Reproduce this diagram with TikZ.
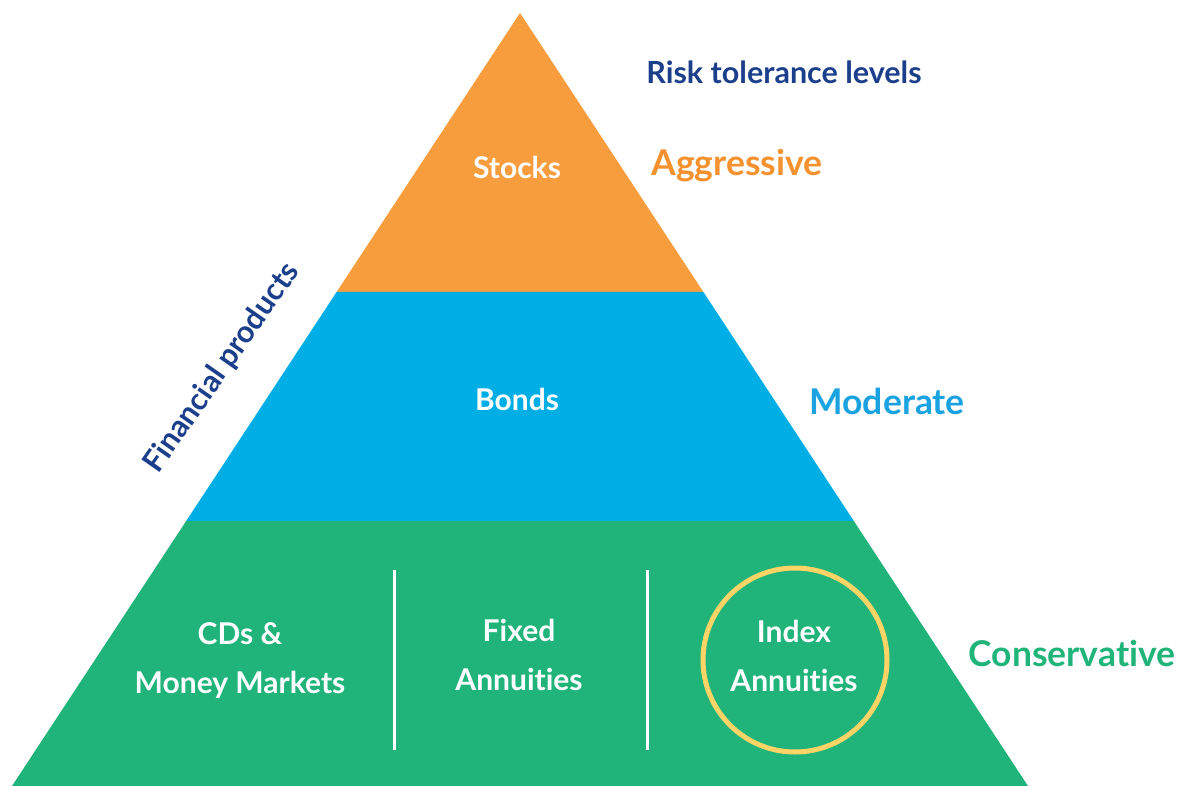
\documentclass[tikz,border=0pt]{standalone}
\usepackage{fontspec}
\setmainfont{Lato}[Ligatures=NoCommon]
\definecolor{stockorange}{HTML}{F79D3D}
\definecolor{bondblue}{HTML}{00AEE6}
\definecolor{safegreen}{HTML}{20B47A}
\definecolor{darkblue}{HTML}{1C3F8C}
\definecolor{ringyellow}{HTML}{FFD466}
\definecolor{aggrorange}{HTML}{F5922F}
\definecolor{modblue}{HTML}{1AA3E0}
\begin{document}
\begin{tikzpicture}[x=1pt,y=-1pt,
  inside/.style={text=white,font=\fontsize{30}{49}\selectfont\bfseries,align=center},
  level/.style={font=\fontsize{35.5}{40}\selectfont\bfseries,anchor=west},
  axis/.style={text=darkblue,font=\fontsize{30.5}{34}\selectfont\bfseries}]
\useasboundingbox (0,0) rectangle (1183,786);
\coordinate (apex) at (520,13);
\coordinate (tl) at (336.6,292);
\coordinate (tr) at (703.4,292);
\coordinate (ml) at (186.2,521);
\coordinate (mr) at (853.8,521);
\coordinate (bl) at (12,786);
\coordinate (br) at (1028,786);
% pyramid bands
\fill[stockorange] (apex) -- (tr) -- (tl) -- cycle;
\fill[bondblue] (tl) -- (tr) -- (mr) -- (ml) -- cycle;
\fill[safegreen] (ml) -- (mr) -- (br) -- (bl) -- cycle;
\draw[white,line width=3pt] (394,570) -- (394,750);
\draw[white,line width=3pt] (647,570) -- (647,750);
\draw[ringyellow,line width=5pt] (795,660) circle (92);
% products
\node[inside] (stocks) at (517,167) {Stocks};
\node[inside] (bonds) at (517,399) {Bonds};
\node[inside] (cds) at (240,661) {CDs \&\\Money Markets};
\node[inside] (fixed) at (519,655) {Fixed\\Annuities};
\node[inside] (index) at (794,656) {Index\\Annuities};
% risk levels
\node[axis] (risk) at (784,72) {Risk tolerance levels};
\node[level,text=aggrorange] (aggr) at (648,166) {Aggressive};
\node[level,text=modblue] (mod) at (806,401) {Moderate};
\node[level,text=safegreen] (cons) at (965,653) {Conservative};
\node[axis,rotate=55] (fin) at (222,368) {Financial products};
\end{tikzpicture}
\end{document}
